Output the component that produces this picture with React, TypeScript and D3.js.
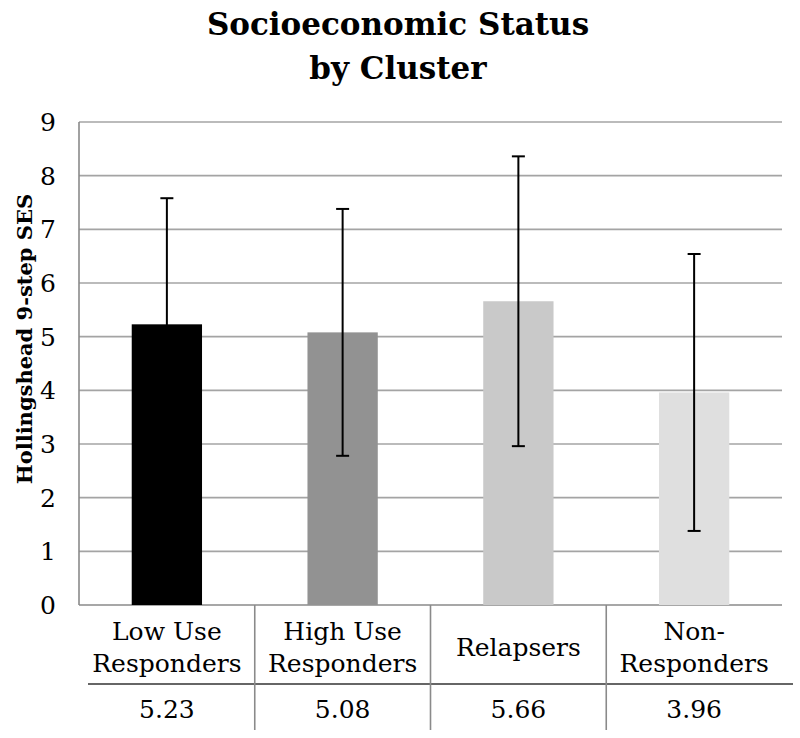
import * as d3 from 'd3';
import * as React from 'react';

// data
const categories = ['Low Use Responders', 'High Use Responders', 'Relapsers', 'Non-Responders'];
const categoryLines = [['Low Use', 'Responders'], ['High Use', 'Responders'], ['Relapsers'], ['Non-', 'Responders']];
const meanValues = [5.23, 5.08, 5.66, 3.96];
const sdValues = [2.35, 2.3, 2.7, 2.58];
const yTicks = [0, 1, 2, 3, 4, 5, 6, 7, 8, 9];
const barColors = ['#000000', '#929292', '#c9c9c9', '#dfdfdf'];
const titleLines = ['Socioeconomic Status', 'by Cluster'];
const yLabel = 'Hollingshead 9-step SES';

// Times isn't available here, DejaVu Serif is the closest serif face
const serif = "'DejaVu Serif', serif";

const App = () => {
  const width = 800;
  const height = 738;
  const margin = { top: 122, right: 18, bottom: 133, left: 79 };
  const plotW = width - margin.left - margin.right;
  const plotBottom = height - margin.bottom;

  const x = d3.scaleBand().domain(categories).range([margin.left, margin.left + plotW]).paddingInner(0.6).paddingOuter(0.3);
  const step = x.step();
  const y = d3.scaleLinear().domain([0, 9]).range([plotBottom, margin.top]);

  const tableLineY = 684;
  const tableBottom = 730;
  const capW = 13;
  const txt = { fontFamily: serif };

  return (
    <svg width={width} height={height} style={{ position: 'absolute', left: 0, top: 0, background: '#fff' }}>
      {titleLines.map((t, i) => (
        <text key={t} x={398} y={35 + i * 44} textAnchor="middle" fontSize={31} fontWeight="bold" fill="#000" style={txt}>
          {t}
        </text>
      ))}

      <text transform={`translate(32,339) rotate(-90)`} textAnchor="middle" fontSize={21} fontWeight="bold" fill="#000" style={txt}>
        {yLabel}
      </text>

      {yTicks.map((t) => (
        <g key={t}>
          {t > 0 && (
            <line x1={margin.left} x2={margin.left + plotW} y1={y(t)} y2={y(t)} stroke="#a4a4a4" strokeWidth={1.6} />
          )}
          <text x={56} y={y(t)} dy="0.36em" textAnchor="end" fontSize={25} fill="#000" style={txt}>
            {t}
          </text>
        </g>
      ))}

      {/* axes */}
      <line x1={margin.left} x2={margin.left} y1={margin.top} y2={plotBottom} stroke="#8a8a8a" strokeWidth={1.6} />
      <line x1={margin.left} x2={margin.left + plotW} y1={plotBottom} y2={plotBottom} stroke="#8a8a8a" strokeWidth={1.6} />

      {categories.map((c, i) => {
        const bx = x(c) as number;
        const cx = bx + x.bandwidth() / 2;
        const top = y(meanValues[i] + sdValues[i]);
        const bot = y(meanValues[i] - sdValues[i]);
        return (
          <g key={c}>
            <rect x={bx} y={y(meanValues[i])} width={x.bandwidth()} height={plotBottom - y(meanValues[i])} fill={barColors[i]} />
            <line x1={cx} x2={cx} y1={top} y2={bot} stroke="#000" strokeWidth={2} />
            <line x1={cx - capW / 2} x2={cx + capW / 2} y1={top} y2={top} stroke="#000" strokeWidth={2} />
            <line x1={cx - capW / 2} x2={cx + capW / 2} y1={bot} y2={bot} stroke="#000" strokeWidth={2} />
          </g>
        );
      })}

      {/* data table */}
      <line x1={88} x2={793} y1={tableLineY} y2={tableLineY} stroke="#333" strokeWidth={1.6} />
      {categories.slice(1).map((c) => {
        const lx = (x(c) as number) - (step - x.bandwidth()) / 2;
        return <line key={c} x1={lx} x2={lx} y1={plotBottom} y2={tableBottom} stroke="#8a8a8a" strokeWidth={1.6} />;
      })}
      {categories.map((c, i) => {
        const cx = (x(c) as number) + x.bandwidth() / 2;
        const lines = categoryLines[i];
        const base = lines.length === 1 ? 656 : 640;
        return (
          <g key={c}>
            {lines.map((l, j) => (
              <text key={l} x={cx} y={base + j * 32} textAnchor="middle" fontSize={25} fill="#000" style={txt}>
                {l}
              </text>
            ))}
            <text x={cx} y={718} textAnchor="middle" fontSize={25} fill="#000" style={txt}>
              {meanValues[i].toFixed(2)}
            </text>
          </g>
        );
      })}
    </svg>
  );
};

export default App;
